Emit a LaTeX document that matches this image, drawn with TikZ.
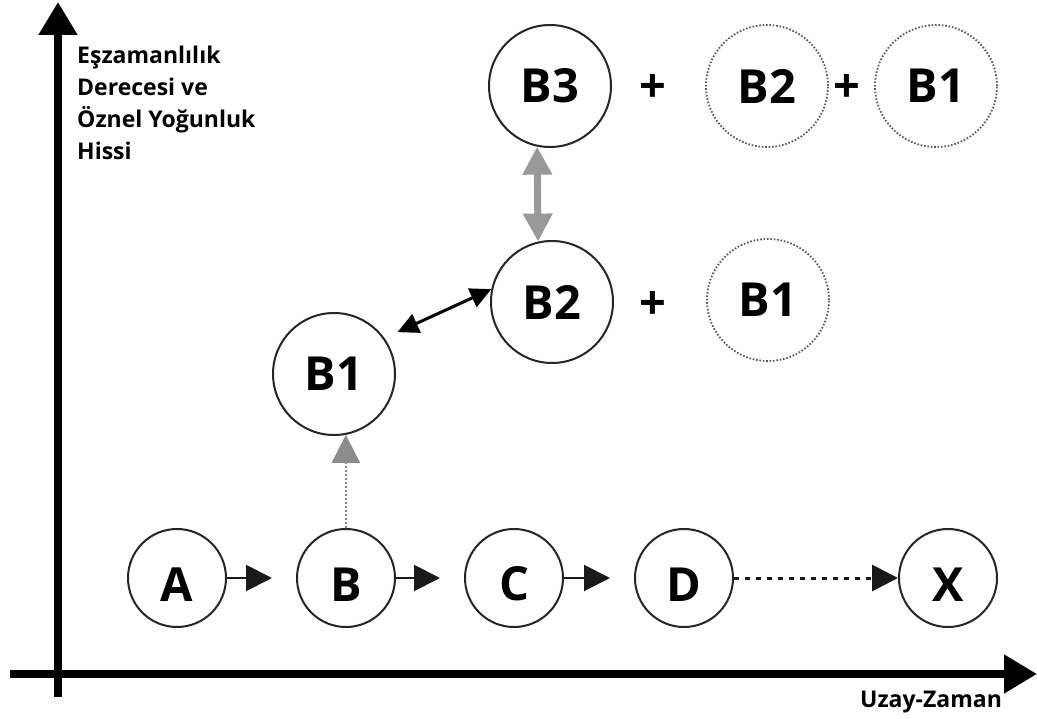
\documentclass[tikz,border=0pt]{standalone}
\usepackage{fontspec}
\setmainfont{Open Sans}
\usetikzlibrary{arrows.meta}

\begin{document}
\begin{tikzpicture}[x=1pt, y=-1pt,
  lbl/.style={font=\fontsize{47}{47}\selectfont\bfseries},
  stage/.style={lbl, circle, draw=black!85, line width=2pt, inner sep=0pt, minimum size=98pt, text height=46pt},
  burst/.style={lbl, circle, draw=black!85, line width=2pt, inner sep=0pt, minimum size=122pt},
  echo/.style={burst, draw=black!65, line width=1.8pt, dash pattern=on 1.6pt off 1.8pt},
  axisarr/.style={line width=8pt, -{Triangle[length=33pt,width=37pt]}},
  flow/.style={line width=2pt, black!90, -{Triangle[length=26pt,width=26pt]}},
  climb/.style={black!45, line width=2pt, dash pattern=on 2pt off 2pt, -{Triangle[length=28pt,width=28pt]}},
  pair/.style={line width=3pt, {Triangle[length=21pt,width=20pt]}-{Triangle[length=21pt,width=20pt]}},
  graypair/.style={black!40, line width=7pt, {Triangle[length=28pt,width=28pt]}-{Triangle[length=28pt,width=28pt]}},
  axislabel/.style={font=\fontsize{23}{32}\selectfont\bfseries, align=left, inner sep=0pt}
]
%
\path[fill=white, use as bounding box] (0,0) rectangle (1037,719);
%
\coordinate (ybot) at (58,697);
\coordinate (ytop) at (58,2);
\coordinate (xleft) at (10,674);
\coordinate (xright) at (1037,674);
\draw[axisarr] (ybot) -- (ytop);
\draw[axisarr] (xleft) -- (xright);
%
\node[axislabel, anchor=base west] (ylabel) at (77,160) {Eşzamanlılık\\Derecesi ve\\Öznel Yoğunluk\\Hissi};
\node[axislabel, anchor=base] (xlabel) at (931,707) {Uzay-Zaman};
%
\node[burst] (b3) at (550,86) {B3};
\node[lbl] (plusa) at (653,88) {+};
\node[echo] (b2top) at (767,86) {B2};
\node[lbl] (plusb) at (847,88) {+};
\node[echo] (b1top) at (936,86) {B1};
%
\node[burst] (b2) at (552,302) {B2};
\node[lbl] (plusc) at (653,305) {+};
\node[echo] (b1mid) at (768,300) {B1};
%
\node[burst] (b1) at (334,374) {B1};
%
\node[stage] (a) at (177,578) {A};
\node[stage] (b) at (346,578) {B};
\node[stage] (c) at (514,578) {C};
\node[stage] (d) at (684,578) {D};
\node[stage] (x) at (948,578) {X};
%
\draw[flow, shorten >=24pt] (a) -- (b);
\draw[flow, shorten >=24pt] (b) -- (c);
\draw[flow, shorten >=24pt] (c) -- (d);
\draw[flow, line width=3pt, dash pattern=on 5pt off 6pt] (d) -- (x);
%
\draw[climb] (b) -- (b1.281);
\draw[pair] ([xshift=16pt,yshift=2pt]b1.40) -- (b2.168);
\draw[graypair] (b3.258) -- (b2.103);
%
\end{tikzpicture}
\end{document}
